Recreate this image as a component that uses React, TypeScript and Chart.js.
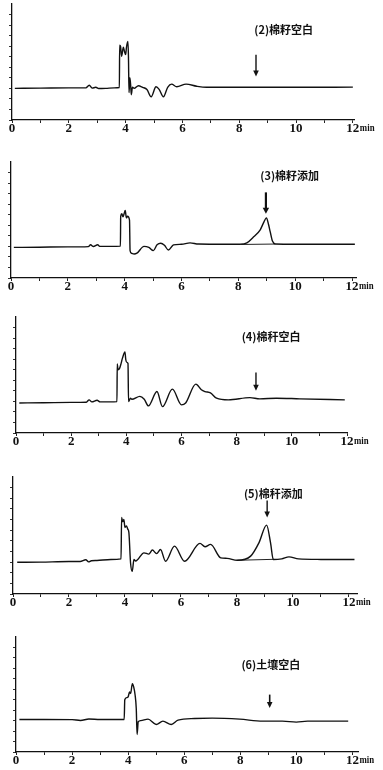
import React, { useEffect, useRef } from 'react';
import { Chart, registerables } from 'chart.js';

Chart.register(...registerables);

// ---- data: retention time (min) and detector signal (arbitrary units) ----
// (2) 棉籽空白
const s2Time = [0.1, 1.0, 2.0, 2.6, 2.72, 2.82, 2.95, 3.05, 3.3, 3.6, 3.78, 3.79, 3.82, 3.86, 3.92, 3.96, 4.0, 4.03, 4.08, 4.1, 4.12, 4.15, 4.18, 4.2, 4.24, 4.3, 4.45, 4.6, 4.75, 4.9, 5.07, 5.18, 5.33, 5.48, 5.62, 5.8, 6.13, 6.5, 6.85, 8, 10, 12.0];
const s2Signal = [3.0, 3.02, 3.05, 3.05, 3.3, 3.02, 3.1, 2.98, 3.0, 3.05, 3.08, 7.1, 7.0, 6.05, 6.9, 6.5, 6.2, 6.9, 7.45, 6.0, 2.6, 4.0, 3.2, 2.4, 3.1, 3.0, 3.25, 3.1, 2.9, 2.2, 3.15, 2.9, 2.2, 3.1, 3.4, 3.15, 3.4, 3.2, 3.1, 3.1, 3.1, 3.12];

// (3) 棉籽添加
const s3Time = [0.1, 1.0, 2.0, 2.72, 2.8, 2.9, 3.05, 3.12, 3.5, 3.85, 3.86, 3.9, 3.94, 3.98, 4.02, 4.06, 4.1, 4.17, 4.19, 4.24, 4.33, 4.43, 4.68, 4.85, 5.01, 5.14, 5.27, 5.4, 5.54, 5.72, 6.0, 6.3, 6.6, 7.5, 8.06, 8.3, 8.5, 8.77, 8.88, 8.99, 9.06, 9.12, 9.2, 9.3, 10, 12.1];
const s3Signal = [2.9, 2.92, 2.95, 2.98, 3.15, 2.98, 3.15, 3.0, 3.0, 3.02, 5.85, 6.1, 5.8, 6.1, 6.4, 5.7, 5.85, 5.5, 2.6, 2.35, 2.28, 2.35, 3.0, 2.9, 2.6, 3.15, 3.3, 3.1, 2.65, 3.14, 3.2, 3.33, 3.22, 3.2, 3.2, 3.32, 3.8, 4.57, 5.2, 5.7, 5.1, 4.4, 3.5, 3.22, 3.2, 3.2];
const s3BaseTime = [8.1, 9.3];
const s3BaseSignal = [3.18, 3.22];

// (4) 棉秆空白
const s4Time = [0.12, 1.0, 2.0, 2.55, 2.65, 2.75, 2.94, 3.05, 3.4, 3.66, 3.67, 3.7, 3.75, 3.8, 3.86, 3.95, 3.98, 4.02, 4.06, 4.08, 4.15, 4.2, 4.49, 4.65, 4.8, 5.11, 5.31, 5.67, 6.0, 6.15, 6.52, 6.72, 6.85, 7.05, 7.27, 7.7, 8.48, 8.84, 9.44, 10.29, 11.92];
const s4Signal = [2.85, 2.87, 2.9, 2.92, 3.14, 2.95, 3.1, 2.95, 2.95, 2.98, 6.55, 6.0, 6.1, 6.5, 7.1, 7.68, 6.95, 6.7, 6.6, 2.98, 3.3, 3.2, 3.47, 3.2, 2.57, 3.93, 2.5, 4.16, 2.67, 2.85, 4.63, 4.1, 3.93, 3.8, 3.3, 3.14, 3.35, 3.24, 3.3, 3.24, 3.14];

// (5) 棉秆添加
const s5Time = [0.15, 1.0, 2.0, 2.4, 2.6, 2.7, 2.8, 3.0, 3.5, 3.86, 3.88, 3.92, 3.96, 4.0, 4.05, 4.1, 4.14, 4.2, 4.26, 4.32, 4.38, 4.68, 4.85, 4.98, 5.13, 5.27, 5.45, 5.77, 6.13, 6.68, 6.86, 7.06, 7.42, 7.65, 8.01, 8.49, 8.79, 9.06, 9.2, 9.3, 9.6, 9.86, 10.2, 11, 12.2];
const s5Signal = [2.98, 3.0, 3.05, 3.05, 3.22, 3.02, 3.12, 3.15, 3.25, 3.3, 7.2, 6.8, 7.0, 6.25, 6.4, 6.1, 5.78, 2.92, 2.13, 3.24, 3.1, 3.87, 3.75, 4.13, 3.8, 4.19, 3.08, 4.5, 3.08, 4.76, 4.44, 4.67, 3.4, 3.35, 3.17, 3.56, 4.83, 6.48, 4.83, 3.24, 3.3, 3.49, 3.3, 3.25, 3.24];
const s5BaseTime = [8.01, 9.32];
const s5BaseSignal = [3.17, 3.26];

// (6) 土壤空白
const s6Time = [0.12, 1.0, 2.0, 2.3, 2.6, 3.0, 3.5, 3.86, 3.88, 3.95, 4.0, 4.05, 4.09, 4.15, 4.2, 4.25, 4.29, 4.32, 4.36, 4.45, 4.71, 5.0, 5.24, 5.54, 5.78, 6.37, 7.0, 7.98, 8.8, 9.5, 10.0, 10.4, 11.85];
const s6Signal = [3.11, 3.11, 3.1, 3.02, 3.15, 3.11, 3.11, 3.11, 5.0, 5.2, 5.27, 5.74, 5.6, 6.54, 6.2, 5.43, 4.16, 1.68, 2.89, 3.0, 3.14, 2.63, 2.95, 2.63, 3.05, 3.2, 3.24, 3.14, 2.95, 2.95, 2.86, 2.95, 2.95];

// annotations (data coordinates)
const panelTitles = ['(2)棉籽空白', '(3)棉籽添加', '(4)棉秆空白', '(5)棉秆添加', '(6)土壤空白'];
const titleTime = [8.53, 8.77, 8.18, 8.25, 8.04];
const titleLevel = [8.57, 9.65, 9.11, 9.43, 8.38];
const arrowTime = [8.59, 8.97, 8.7, 9.08, 9.05];
const arrowFrom = [6.19, 8.12, 5.74, 8.79, 5.49];
const arrowTo = [4.12, 6.1, 4.0, 7.2, 4.22];

const xTickLabels = ['0', '', '2', '', '4', '', '6', '', '8', '', '10', '', '12'];
const yTickValues = [0, 1, 2, 3, 4, 5, 6, 7, 8, 9, 10];
const xUnit = 'min';

const traces = [
  { t: s2Time, v: s2Signal, bt: null, bv: null },
  { t: s3Time, v: s3Signal, bt: s3BaseTime, bv: s3BaseSignal },
  { t: s4Time, v: s4Signal, bt: null, bv: null },
  { t: s5Time, v: s5Signal, bt: s5BaseTime, bv: s5BaseSignal },
  { t: s6Time, v: s6Signal, bt: null, bv: null },
];

// ---- layout (pixels) ----
const layouts = [
  { top: 4, bottom: 120, left: 12, right: 354, xMax: 12.04, arrowW: 1.4 },
  { top: 162, bottom: 278, left: 11, right: 356, xMax: 12.14, arrowW: 2.2 },
  { top: 317, bottom: 433, left: 16, right: 347, xMax: 12.0, arrowW: 1.4 },
  { top: 477, bottom: 594, left: 13, right: 357, xMax: 12.29, arrowW: 1.4 },
  { top: 637, bottom: 752, left: 16, right: 358, xMax: 12.2, arrowW: 1.6 },
];
const W = 383;
const X_AXIS_H = 24;
const PAD_TOP = 4;
const TICK_LEN = 3;
const TICK_PAD = -2;
const TICK_FONT = 13;

const marksPlugin = {
  id: 'marks',
  afterDraw(chart: any, _args: any, opts: any) {
    const { ctx, chartArea } = chart;
    const x = chart.scales.x;
    const y = chart.scales.y;
    ctx.save();
    ctx.strokeStyle = '#111';
    ctx.fillStyle = '#111';
    // arrow
    const ax = x.getPixelForValue(opts.arrowTime);
    const ay1 = y.getPixelForValue(opts.arrowFrom);
    const ay2 = y.getPixelForValue(opts.arrowTo);
    const head = 6;
    const half = opts.arrowW > 2 ? 3.2 : 2.8;
    ctx.lineWidth = opts.arrowW;
    ctx.beginPath();
    ctx.moveTo(ax, ay1);
    ctx.lineTo(ax, ay2 - head + 1);
    ctx.stroke();
    ctx.beginPath();
    ctx.moveTo(ax - half, ay2 - head);
    ctx.lineTo(ax + half, ay2 - head);
    ctx.lineTo(ax, ay2);
    ctx.closePath();
    ctx.fill();
    // title
    ctx.font = 'bold 11px "Noto Sans CJK SC"';
    ctx.textAlign = 'left';
    ctx.textBaseline = 'middle';
    ctx.fillText(opts.title, x.getPixelForValue(opts.titleTime), y.getPixelForValue(opts.titleLevel));
    // unit after last tick label
    const x12 = x.getPixelForValue(12);
    ctx.font = `bold ${TICK_FONT}px "Liberation Serif"`;
    const w = ctx.measureText(xTickLabels[12]).width;
    const yMid = chartArea.bottom + TICK_LEN + TICK_PAD + TICK_FONT * 0.6;
    ctx.translate(x12 + w / 2 + 0.5, yMid + 2.4);
    ctx.scale(0.8, 1);
    ctx.font = `bold 11px "Liberation Serif"`;
    ctx.textBaseline = 'alphabetic';
    ctx.fillText(xUnit, 0, 0);
    ctx.restore();
  },
};

function Panel({ idx }: { idx: number }) {
  const ref = useRef<HTMLCanvasElement>(null);
  const L = layouts[idx];
  const canvasTop = L.top - PAD_TOP;
  const H = L.bottom - canvasTop + X_AXIS_H;

  useEffect(() => {
    const tr = traces[idx];
    const datasets: any[] = [
      {
        data: tr.t.map((t, i) => ({ x: t, y: tr.v[i] })),
        borderColor: '#111',
        borderWidth: 1.4,
        pointRadius: 0,
        cubicInterpolationMode: 'monotone',
        fill: false,
        clip: false,
      },
    ];
    if (tr.bt && tr.bv) {
      datasets.push({
        data: tr.bt.map((t, i) => ({ x: t, y: (tr.bv as number[])[i] })),
        borderColor: '#222',
        borderWidth: 1,
        pointRadius: 0,
        fill: false,
      });
    }
    const chart = new Chart(ref.current as HTMLCanvasElement, {
      type: 'line',
      data: { datasets },
      options: {
        responsive: false,
        animation: false,
        devicePixelRatio: 1,
        layout: { padding: { top: PAD_TOP, left: 0, right: W - L.right, bottom: 0 } },
        plugins: {
          legend: { display: false },
          tooltip: { enabled: false },
          marks: {
            title: panelTitles[idx],
            titleTime: titleTime[idx],
            titleLevel: titleLevel[idx],
            arrowTime: arrowTime[idx],
            arrowFrom: arrowFrom[idx],
            arrowTo: arrowTo[idx],
            arrowW: L.arrowW,
          },
        } as any,
        scales: {
          x: {
            type: 'linear',
            min: 0,
            max: L.xMax,
            afterFit: (s: any) => {
              s.height = X_AXIS_H;
            },
            afterBuildTicks: (s: any) => {
              s.ticks = xTickLabels.map((_, i) => ({ value: i }));
            },
            grid: { drawOnChartArea: false, drawTicks: true, tickLength: TICK_LEN, color: '#222', lineWidth: 1 },
            border: { display: true, color: '#111', width: 1.3 },
            ticks: {
              autoSkip: false,
              maxRotation: 0,
              minRotation: 0,
              padding: TICK_PAD,
              color: '#111',
              font: { family: '"Liberation Serif"', size: TICK_FONT, weight: 'bold' },
              callback: (v: any) => xTickLabels[v] ?? '',
            },
          },
          y: {
            type: 'linear',
            min: 0,
            max: 11,
            afterFit: (s: any) => {
              s.width = L.left;
            },
            afterBuildTicks: (s: any) => {
              s.ticks = yTickValues.map((v) => ({ value: v }));
            },
            grid: {
              drawOnChartArea: false,
              drawTicks: true,
              tickLength: 3,
              lineWidth: 1,
              color: '#333',
            },
            border: { display: true, color: '#111', width: 1.3 },
            ticks: { display: false },
          },
        },
      } as any,
      plugins: [marksPlugin],
    });
    return () => chart.destroy();
  }, [idx]);

  return (
    <canvas
      ref={ref}
      width={W}
      height={H}
      style={{ position: 'absolute', left: 0, top: canvasTop, width: W, height: H }}
    />
  );
}

export default function App() {
  return (
    <div style={{ position: 'absolute', left: 0, top: 0, width: W, height: 770, overflow: 'hidden', background: '#fff' }}>
      {layouts.map((_, i) => (
        <Panel key={i} idx={i} />
      ))}
    </div>
  );
}
